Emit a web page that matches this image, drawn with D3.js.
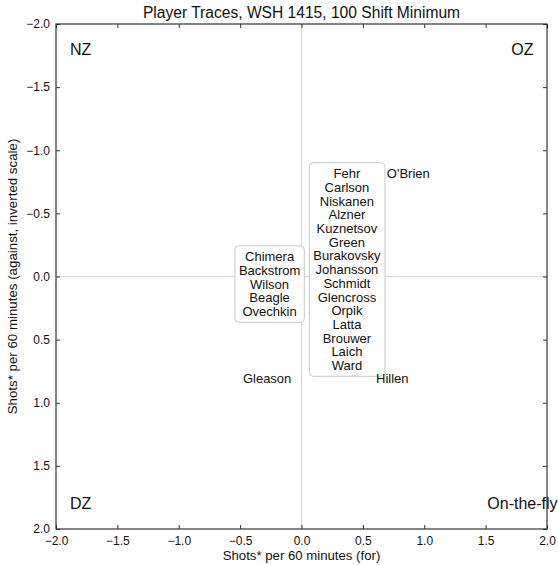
<!DOCTYPE html>
<html><head><meta charset="utf-8">
<script src="https://cdn.jsdelivr.net/npm/d3@7"></script>
<style>body{margin:0;background:#fff;} svg{display:block;font-family:"Liberation Sans",Arial,sans-serif;}</style>
</head><body><svg id="c" width="558" height="565"></svg>
<script>
const titleText = "Player Traces, WSH 1415, 100 Shift Minimum";
const xLabel = "Shots* per 60 minutes (for)";
const yLabel = "Shots* per 60 minutes (against, inverted scale)";
const tickValues = [-2, -1.5, -1, -0.5, 0, 0.5, 1, 1.5, 2];
const cornerLabels = ["NZ", "OZ", "DZ", "On-the-fly"];
const cornerX = [-1.8, 1.8, -1.8, 1.8];
const cornerY = [-1.8, -1.8, 1.8, 1.8];
const groupNames = [
  ["Fehr","Carlson","Niskanen","Alzner","Kuznetsov","Green","Burakovsky","Johansson","Schmidt","Glencross","Orpik","Latta","Brouwer","Laich","Ward"],
  ["Chimera","Backstrom","Wilson","Beagle","Ovechkin"],
  ["O'Brien"],
  ["Gleason"],
  ["Hillen"]
];
const groupX = [0.37, -0.26, 0.87, -0.28, 0.74];
const groupY = [-0.055, 0.06, -0.82, 0.81, 0.81];
const groupBoxed = [true, true, false, false, false];

const svg = d3.select("#c");
const x = d3.scaleLinear().domain([-2, 2]).range([56, 547]);
const y = d3.scaleLinear().domain([-2, 2]).range([24, 529]);
const fmt = d3.format(".1f");

// zero lines
svg.append("line").attr("x1", x(0)).attr("x2", x(0)).attr("y1", y(-2)).attr("y2", y(2))
  .attr("stroke", "#d6d6fa").attr("stroke-width", 1);
svg.append("line").attr("x1", x(-2)).attr("x2", x(2)).attr("y1", y(0)).attr("y2", y(0))
  .attr("stroke", "#d6d6fa").attr("stroke-width", 1);

// labels
const lineH = 13.7;
groupNames.forEach((names, i) => {
  const g = svg.append("g");
  const cx = x(groupX[i]), cy = y(groupY[i]);
  const n = names.length;
  const t = g.append("text").attr("text-anchor", "middle").attr("font-size", 13).attr("fill", "#111");
  names.forEach((nm, j) => {
    t.append("tspan").attr("x", cx).attr("y", cy + (j - (n - 1) / 2) * lineH + 4.6).text(nm);
  });
  if (groupBoxed[i]) {
    const bb = t.node().getBBox();
    g.insert("rect", "text").attr("x", bb.x - 4).attr("y", cy - n * lineH / 2 - 4)
      .attr("width", bb.width + 8).attr("height", n * lineH + 8)
      .attr("rx", 4).attr("fill", "#fff").attr("stroke", "#c8c8c8").attr("stroke-width", 1);
  }
});

// corner labels
cornerLabels.forEach((s, i) => {
  svg.append("text").attr("x", x(cornerX[i])).attr("y", y(cornerY[i]) + 5.5)
    .attr("text-anchor", "middle").attr("font-size", 16).attr("fill", "#111").text(s);
});

// frame
svg.append("rect").attr("x", x(-2)).attr("y", y(-2)).attr("width", x(2) - x(-2)).attr("height", y(2) - y(-2))
  .attr("fill", "none").attr("stroke", "#333").attr("stroke-width", 1.2);

// axes with inward ticks
const axB = svg.append("g").attr("transform", `translate(0,${y(2)})`)
  .call(d3.axisBottom(x).tickValues(tickValues).tickFormat(fmt).tickSizeInner(-4).tickSizeOuter(0).tickPadding(7));
const axL = svg.append("g").attr("transform", `translate(${x(-2)},0)`)
  .call(d3.axisLeft(y).tickValues(tickValues).tickFormat(fmt).tickSizeInner(-4).tickSizeOuter(0).tickPadding(6));
const axT = svg.append("g").attr("transform", `translate(0,${y(-2)})`)
  .call(d3.axisTop(x).tickValues(tickValues).tickFormat("").tickSizeInner(-4).tickSizeOuter(0));
const axR = svg.append("g").attr("transform", `translate(${x(2)},0)`)
  .call(d3.axisRight(y).tickValues(tickValues).tickFormat("").tickSizeInner(-4).tickSizeOuter(0));
[axB, axL, axT, axR].forEach(a => {
  a.select(".domain").remove();
  a.selectAll("line").attr("stroke", "#333");
  a.selectAll("text").attr("font-size", 12).attr("fill", "#111").attr("font-family", '"Liberation Sans",Arial,sans-serif');
});

// title & axis labels
svg.append("text").attr("x", x(0)).attr("y", 18).attr("text-anchor", "middle").attr("font-size", 15.6).attr("fill", "#111").text(titleText);
svg.append("text").attr("x", x(0)).attr("y", 560).attr("text-anchor", "middle").attr("font-size", 13.2).attr("fill", "#111").text(xLabel);
svg.append("text").attr("transform", `translate(17,${y(0)}) rotate(-90)`).attr("text-anchor", "middle").attr("font-size", 13.3).attr("fill", "#111").text(yLabel);
</script></body></html>
